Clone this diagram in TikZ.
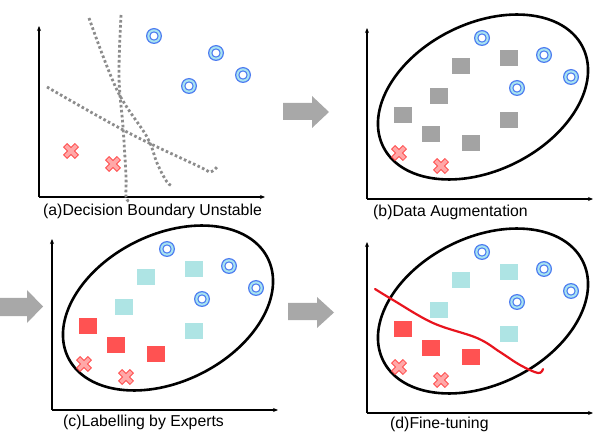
\documentclass[tikz,border=0pt]{standalone}
\usepackage{fontspec}
\setmainfont{Liberation Sans}
\usetikzlibrary{arrows.meta}
\definecolor{ringblue}{HTML}{4D7CF0}
\definecolor{ringfill}{HTML}{A8E4F0}
\definecolor{crossfill}{HTML}{FFA8A8}
\definecolor{crossline}{HTML}{FF5050}
\definecolor{sqgray}{HTML}{A3A3A3}
\definecolor{sqcyan}{HTML}{AEE4E4}
\definecolor{sqred}{HTML}{FF5252}
\definecolor{arrowgray}{HTML}{A8A8A8}
\definecolor{dotgray}{HTML}{8C8C8C}
\definecolor{tunered}{HTML}{E8141E}
\tikzset{
  axisline/.style={line width=1.3pt,-{Stealth[length=5pt,width=4pt]}},
  ellipseline/.style={line width=2.6pt},
  sqbox/.style={minimum width=18pt,minimum height=16pt,inner sep=0pt,draw=none},
  dotline/.style={line width=2.8pt,dotgray,dash pattern=on 2.6pt off 2.4pt},
  tuneline/.style={line width=2.2pt,tunered,line cap=round},
  bigarrow/.style={fill=arrowgray},
  caption/.style={anchor=west,inner sep=0pt,font=\fontsize{15.8}{18}\selectfont},
  ringmark/.pic={
    \fill[ringblue] (0,0) circle (8);
    \fill[ringfill] (0,0) circle (6.7);
    \fill[ringblue] (0,0) circle (4.7);
    \fill[white] (0,0) circle (3.4);
  },
  xmark/.pic={
    \draw[crossline,fill=crossfill,line width=0.8pt,rotate=45]
      (-8,-2.5) -- (-2.5,-2.5) -- (-2.5,-8) -- (2.5,-8) -- (2.5,-2.5) -- (8,-2.5)
      -- (8,2.5) -- (2.5,2.5) -- (2.5,8) -- (-2.5,8) -- (-2.5,2.5) -- (-8,2.5) -- cycle;
  }
}
% panel pieces, local coordinates from the axis origin
\newcommand\myaxes[1]{%
  \coordinate (#1O) at (0,0);
  \coordinate (#1Y) at (0,171);
  \coordinate (#1X) at (226,0);
  \draw[axisline] (#1O) -- (#1Y);
  \draw[axisline] (#1O) -- (#1X);
}
\newcommand\myrings{%
  \pic at (115,161) {ringmark};
  \pic at (177,144) {ringmark};
  \pic at (204,122) {ringmark};
  \pic at (150,111) {ringmark};
}
\newcommand\mycrosses{%
  \pic at (32,46) {xmark};
  \pic at (74,33) {xmark};
}
\newcommand\myellipse{%
  \draw[ellipseline,rotate around={26.5:(116,102)}] (116,102) ellipse [x radius=111.5,y radius=73.5];
}
\newcommand\mysquares[3]{%
  \node[sqbox,fill=#2] (#1s1) at (94,133) {};
  \node[sqbox,fill=#2] (#1s2) at (142,141) {};
  \node[sqbox,fill=#2] (#1s3) at (72,103) {};
  \node[sqbox,fill=#3] (#1s4) at (36,84) {};
  \node[sqbox,fill=#3] (#1s5) at (64,65) {};
  \node[sqbox,fill=#3] (#1s6) at (104,56) {};
  \node[sqbox,fill=#2] (#1s7) at (142,79) {};
}
\begin{document}
\begin{tikzpicture}[x=1pt,y=1pt]
\useasboundingbox (0,0) rectangle (600,445);

% ---------- panel (a)
\begin{scope}[shift={(39,248)}]
  \myaxes{a}
  \draw[dotline] plot[smooth,tension=0.6] coordinates {(50,179) (78,107) (108,60) (118,34) (128,15) (134,11)};
  \draw[dotline] plot[smooth,tension=0.6] coordinates {(82,182) (80,120) (84,70) (87,20) (87,0) (91,-5)};
  \draw[dotline] plot[smooth,tension=0.6] coordinates {(8,110) (88,65) (161,30) (171,25) (178,30)};
  \myrings
  \mycrosses
\end{scope}
\node[caption] (capa) at (43,234) {(a)Decision Boundary Unstable};

% ---------- panel (b)
\begin{scope}[shift={(367,246)}]
  \myaxes{b}
  \myellipse
  \mysquares{b}{sqgray}{sqgray}
  \myrings
  \mycrosses
\end{scope}
\node[caption] (capb) at (373,233) {(b)Data Augmentation};

% ---------- panel (c)
\begin{scope}[shift={(52,35)}]
  \myaxes{c}
  \myellipse
  \mysquares{c}{sqcyan}{sqred}
  \myrings
  \mycrosses
\end{scope}
\node[caption] (capc) at (63,23) {(c)Labelling by Experts};

% ---------- panel (d)
\begin{scope}[shift={(367,32)}]
  \myaxes{d}
  \myellipse
  \mysquares{d}{sqcyan}{sqred}
  \myrings
  \mycrosses
  \draw[tuneline] plot[smooth,tension=0.6] coordinates {(8,124) (26,113) (66,90) (110,75) (133,61) (153,48) (171,40) (176,44)};
\end{scope}
\node[caption] (capd) at (390,21) {(d)Fine-tuning};

% ---------- big arrows
\fill[bigarrow] (283,325) -- (312,325) -- (312,317) -- (329,333) -- (312,349) -- (312,342) -- (283,342) -- cycle;
\fill[bigarrow] (0,129) -- (27,129) -- (27,122) -- (43,138.5) -- (27,155) -- (27,147) -- (0,147) -- cycle;
\fill[bigarrow] (288,125) -- (317,125) -- (317,117) -- (334,132.5) -- (317,148) -- (317,142) -- (288,142) -- cycle;
\end{tikzpicture}
\end{document}
